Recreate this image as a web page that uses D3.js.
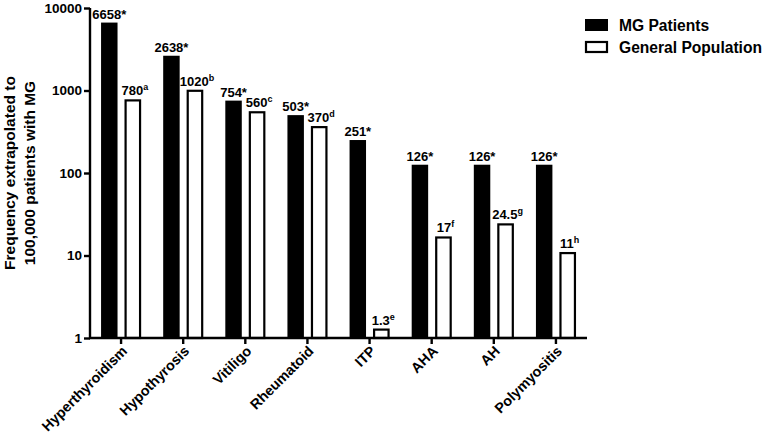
<!DOCTYPE html>
<html>
<head>
<meta charset="utf-8">
<script src="https://cdn.jsdelivr.net/npm/d3@7"></script>
<style>
  body { margin: 0; background: #fff; }
  text { font-family: Arial, "Liberation Sans", sans-serif; font-weight: bold; }
</style>
</head>
<body>
<div id="chart"></div>
<script>
const categories = ["Hyperthyroidism", "Hypothyrosis", "Vitiligo", "Rheumatoid", "ITP", "AHA", "AH", "Polymyositis"];
const mgValues = [6658, 2638, 754, 503, 251, 126, 126, 126];
const gpValues = [780, 1020, 560, 370, 1.3, 17, 24.5, 11];
const gpNotes = ["a", "b", "c", "d", "e", "f", "g", "h"];
const seriesNames = ["MG Patients", "General Population"];
const yTicks = [1, 10, 100, 1000, 10000];

const WIDTH = 765, HEIGHT = 442;
const margins = { top: 8, left: 90, bottom: 104, right: 178 };
const width = WIDTH - margins.left - margins.right,
    height = HEIGHT - margins.top - margins.bottom;

const svg = d3.select("#chart")
    .append("svg")
    .attr("width", WIDTH)
    .attr("height", HEIGHT);

const x = d3.scaleBand()
    .domain(categories)
    .range([0, width]);

const inner = d3.scaleBand()
    .domain([0, 1])
    .range([x.bandwidth() / 2 - 20, x.bandwidth() / 2 + 20])
    .paddingInner(0.3);

const y = d3.scaleLog()
    .domain([1, 10000])
    .range([height, 0]);

const g = svg.append("g")
    .attr("transform", `translate(${margins.left}, ${margins.top})`);

// bars
const groups = g.selectAll(".grp")
    .data(categories)
    .join("g")
    .attr("transform", d => `translate(${x(d)}, 0)`);

groups.append("rect")
    .attr("x", inner(0))
    .attr("width", inner.bandwidth())
    .attr("y", (d, i) => y(mgValues[i]))
    .attr("height", (d, i) => height - y(mgValues[i]))
    .attr("fill", "#000");

groups.append("rect")
    .attr("x", inner(1) + 1)
    .attr("width", inner.bandwidth() - 2)
    .attr("y", (d, i) => y(gpValues[i]) + 1)
    .attr("height", (d, i) => height - y(gpValues[i]) - 1)
    .attr("fill", "#fff")
    .attr("stroke", "#000")
    .attr("stroke-width", 2.2);

// value labels
groups.append("text")
    .attr("x", inner(0) + inner.bandwidth() / 2)
    .attr("y", (d, i) => y(mgValues[i]) - 4)
    .attr("text-anchor", "middle")
    .attr("font-size", 13)
    .text((d, i) => mgValues[i] + "*");

const gpLabel = groups.append("text")
    .attr("x", inner(1) + inner.bandwidth() / 2 + 2)
    .attr("y", (d, i) => y(gpValues[i]) - 4)
    .attr("text-anchor", "middle")
    .attr("font-size", 13);
gpLabel.append("tspan").text((d, i) => gpValues[i]);
gpLabel.append("tspan")
    .attr("font-size", 9)
    .attr("dy", -5)
    .text((d, i) => gpNotes[i]);

// axes
const axisY = d3.axisLeft(y)
    .tickValues(yTicks)
    .tickFormat(d3.format("d"))
    .tickSize(6)
    .tickPadding(2);
const yAxis = g.append("g").call(axisY);

const axisX = d3.axisBottom(x).tickSize(6).tickFormat("");
const xAxis = g.append("g")
    .attr("transform", `translate(0, ${height})`)
    .call(axisX);

[yAxis, xAxis].forEach(a => {
    a.select(".domain").attr("stroke-width", 2.4).attr("stroke", "#000");
    a.selectAll(".tick line").attr("stroke-width", 2.4).attr("stroke", "#000");
});
yAxis.select(".domain").attr("d", `M0,${height + 1}V0`);
xAxis.select(".domain").attr("d", `M-1,0H${width}`);
yAxis.selectAll(".tick text")
    .attr("font-size", 13.5)
    .attr("fill", "#000")
    .attr("font-family", "Arial, 'Liberation Sans', sans-serif");

// x labels
g.append("g")
    .selectAll("text")
    .data(categories)
    .join("text")
    .attr("transform", d => `translate(${x(d) + x.bandwidth() / 2 + 7}, ${height + 14}) rotate(-45)`)
    .attr("text-anchor", "end")
    .attr("font-size", 14.3)
    .text(d => d);

// y title
const yTitle = svg.append("text")
    .attr("transform", `translate(15, ${margins.top + height / 2}) rotate(-90)`)
    .attr("text-anchor", "middle")
    .attr("font-size", 15.5);
yTitle.append("tspan").attr("x", 0).attr("dy", 0).text("Frequency extrapolated to");
yTitle.append("tspan").attr("x", 0).attr("dy", 19.5).text("100,000 patients with MG");

// legend
const legend = svg.append("g")
    .attr("transform", "translate(585, 19)");
const items = legend.selectAll("g")
    .data(seriesNames)
    .join("g")
    .attr("transform", (d, i) => `translate(0, ${i * 22})`);
items.append("rect")
    .attr("x", (d, i) => i ? 1 : 0)
    .attr("y", (d, i) => i ? 1 : 0)
    .attr("width", (d, i) => i ? 21 : 23)
    .attr("height", (d, i) => i ? 10 : 12)
    .attr("fill", (d, i) => i ? "#fff" : "#000")
    .attr("stroke", "#000")
    .attr("stroke-width", (d, i) => i ? 2.2 : 0);
items.append("text")
    .attr("x", 34)
    .attr("y", 12)
    .attr("font-size", 15.6)
    .text(d => d);
</script>
</body>
</html>
